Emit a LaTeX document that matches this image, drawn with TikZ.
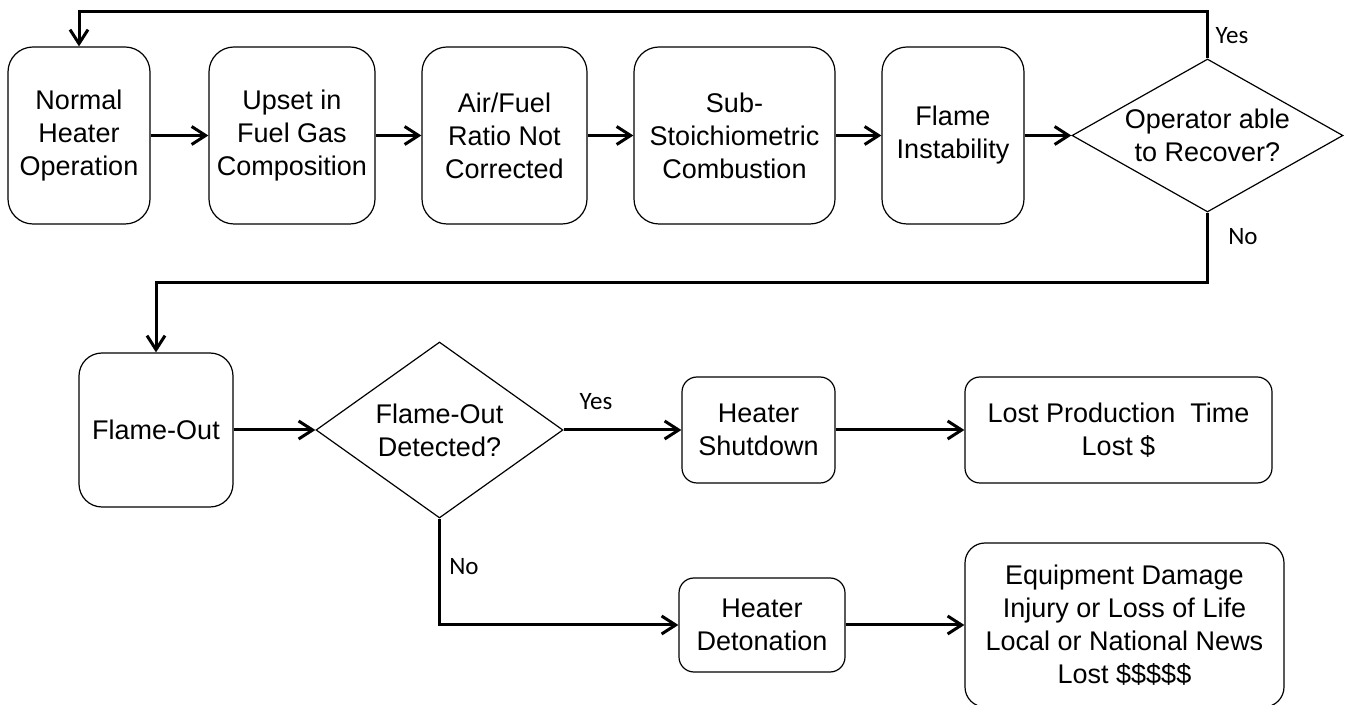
\documentclass[tikz,border=0pt]{standalone}
\usepackage{fontspec}
\setmainfont{Liberation Sans}
\newfontfamily\lblfont{Carlito}
\usetikzlibrary{shapes.geometric,arrows.meta}
\begin{document}
\begin{tikzpicture}[x=0.5pt,y=-0.5pt,
  every node/.style={font=\fontsize{13.5}{16.5}\selectfont, align=center, inner sep=0pt},
  procbox/.style={draw, line width=0.6pt, rounded corners=#1},
  procbox/.default=12.5pt,
  decision/.style={draw, line width=0.6pt, shape=diamond, inner sep=0pt},
  conn/.style={line width=1.5pt, -{Straight Barb[length=7pt,width=9pt]}},
  lbl/.style={font=\lblfont\fontsize{12.5}{15}\selectfont}
]
\useasboundingbox (0,0) rectangle (1346,705);

% top row
\node[procbox, minimum width=71pt, minimum height=88.5pt] (b1) at (79,135.5) {Normal\\Heater\\Operation};
\node[procbox, minimum width=83pt, minimum height=88.5pt] (b2) at (292,135.5) {Upset in\\Fuel Gas\\Composition};
\node[procbox, minimum width=82.5pt, minimum height=88.5pt] (b3) at (504.5,135.5) {Air/Fuel\\Ratio Not\\Corrected};
\node[procbox, minimum width=100.5pt, minimum height=88.5pt] (b4) at (734.5,135.5) {Sub-\\Stoichiometric\\Combustion};
\node[procbox, minimum width=71pt, minimum height=88.5pt] (b5) at (953,135.5) {Flame\\Instability};
\node[decision, aspect=1.77, minimum width=135.5pt, minimum height=76.5pt] (d1) at (1207.5,135.5) {Operator able\\to Recover?};

% middle row
\node[procbox=11.5pt, minimum width=77pt, minimum height=77pt] (fo) at (156,430) {Flame-Out};
\node[decision, aspect=1.4, minimum width=123.5pt, minimum height=88pt] (d2) at (439.5,430) {Flame-Out\\Detected?};
\node[procbox=7.5pt, minimum width=76.5pt, minimum height=53pt] (hs) at (758.5,430) {Heater\\Shutdown};
\node[procbox=7.5pt, minimum width=153.5pt, minimum height=53pt] (lp) at (1118.5,430) {Lost Production\ \ Time\\Lost \$};

% bottom row
\node[procbox=7.5pt, minimum width=83pt, minimum height=47pt] (hd) at (762,625) {Heater\\Detonation};
\node[procbox=10pt, minimum width=159.5pt, minimum height=82pt] (eq) at (1124.5,625) {Equipment Damage\\Injury or Loss of Life\\Local or National News\\Lost \$\$\$\$\$};

% connectors
\draw[conn] (b1) -- (b2);
\draw[conn] (b2) -- (b3);
\draw[conn] (b3) -- (b4);
\draw[conn] (b4) -- (b5);
\draw[conn] (b5) -- (d1);

\coordinate (t1) at (1207.5,12);
\draw[conn] (d1.north) -- (t1) -| (b1.north);
\coordinate (t2) at (1207.5,283);
\draw[conn] (d1.south) -- (t2) -| (fo.north);

\draw[conn] (fo) -- (d2);
\draw[conn] (d2.east) -- (hs.west);
\draw[conn] (hs) -- (lp);
\draw[conn] (d2.south) |- (hd.west);
\draw[conn] (hd) -- (eq);

% labels
\node[lbl] (y1) at (1232,36) {Yes};
\node[lbl] (n1) at (1243,237) {No};
\node[lbl] (y2) at (596,402) {Yes};
\node[lbl] (n2) at (464,567) {No};
\end{tikzpicture}
\end{document}
